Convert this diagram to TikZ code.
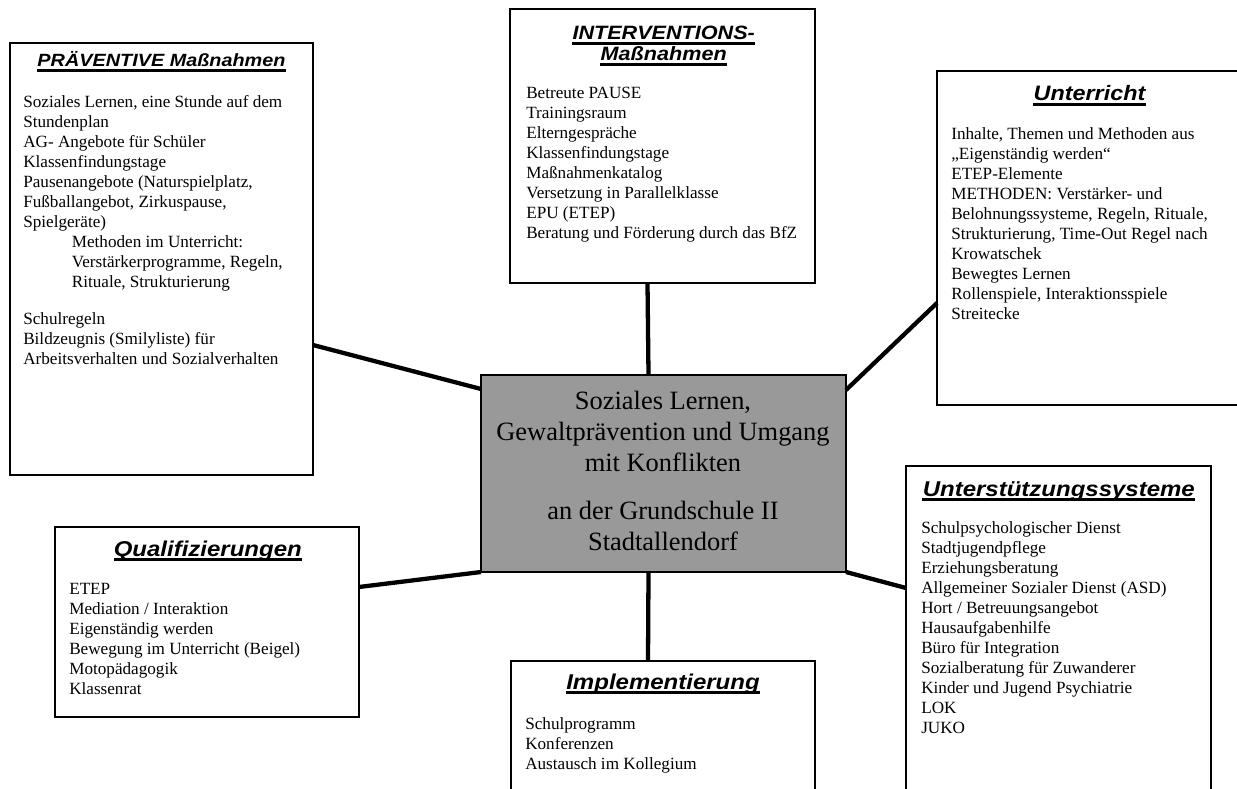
\documentclass[tikz,border=0pt]{standalone}
\usepackage{fontspec}
\setmainfont{Liberation Serif}
\newfontfamily\titlefont[FakeStretch=1.12]{Liberation Sans}
\usetikzlibrary{calc}
\definecolor{centerfill}{RGB}{153,153,153}
\newcommand\mytitle[4]{%
  \node[ttl,font=\titlefont\bfseries\itshape\fontsize{#3}{#3}\selectfont] (#1) at (#2) {#4};
  \draw[uline] ($(#1.base west)+(0,3.6)$) -- ($(#1.base east)+(0,3.6)$);}
\begin{document}
\begin{tikzpicture}[x=0.7pt,y=-0.7pt,
  box/.style={draw=black, line width=1.3pt, fill=white, inner sep=0pt, outer sep=0pt, anchor=north west},
  cbox/.style={box, fill=centerfill},
  body/.style={anchor=north west, inner sep=0pt, align=left, font=\fontsize{12}{14}\selectfont},
  ctext/.style={anchor=north, inner sep=0pt, align=center, font=\fontsize{18.5}{21.7}\selectfont},
  ttl/.style={anchor=base, inner sep=0pt},
  uline/.style={line width=2.2pt},
  link/.style={line width=3pt, line cap=butt}]
\useasboundingbox (0,0) rectangle (1237,789);

% boxes
\node[box, minimum width=212.1pt, minimum height=302.4pt] (P) at (10,43) {};
\node[box, minimum width=213.5pt, minimum height=191.8pt] (I) at (510,9) {};
\node[box, minimum width=213.5pt, minimum height=233.8pt] (U) at (937,71) {};
\node[box, minimum width=212.8pt, minimum height=133pt] (Q) at (55,527) {};
\node[box, minimum width=212.8pt, minimum height=112pt] (M) at (511,661) {};
\node[box, minimum width=213.5pt, minimum height=252pt] (S) at (906,466) {};
\node[cbox, minimum width=255.5pt, minimum height=137.9pt] (C) at (481,375) {};

% connectors
\draw[link] ($(P.north east)+(0,302)$) -- ($(C.north west)+(0,14)$);
\draw[link] ($(I.south)+(-15,0)$) -- ($(C.north)+(-15,0)$);
\draw[link] ($(C.north east)+(0,15)$) -- ($(U.north west)+(0,232)$);
\draw[link] ($(Q.north east)+(0,60)$) -- (C.south west);
\draw[link] ($(C.south)+(-15,0)$) -- ($(M.north)+(-15,0)$);
\draw[link] (C.south east) -- ($(S.north west)+(0,122)$);

% titles
\mytitle{tP}{161.5,67}{12.4}{PRÄVENTIVE Maßnahmen}
\mytitle{tI1}{663.7,39.5}{13.5}{INTERVENTIONS-}
\mytitle{tI2}{663.7,60.5}{13.5}{Maßnahmen}
\mytitle{tU}{1089.5,100.7}{14.6}{Unterricht}
\mytitle{tQ}{207.8,556}{15}{Qualifizierungen}
\mytitle{tM}{663,689.3}{15}{Implementierung}
\mytitle{tS}{1058.8,496}{15}{Unterstützungssysteme}

% body texts
\node[body] (bP) at (23,93) {\strut Soziales Lernen, eine Stunde auf dem\\
Stundenplan\\
AG- Angebote für Schüler\\
Klassenfindungstage\\
Pausenangebote (Naturspielplatz,\\
Fußballangebot, Zirkuspause,\\
Spielgeräte)\\
\hspace*{34pt}Methoden im Unterricht:\\
\hspace*{34pt}Verstärkerprogramme, Regeln,\\
\hspace*{34pt}Rituale, Strukturierung\\[12pt]
Schulregeln\\
Bildzeugnis (Smilyliste) für\\
Arbeitsverhalten und Sozialverhalten};

\node[body] (bI) at (526,84) {\strut Betreute PAUSE\\
Trainingsraum\\
Elterngespräche\\
Klassenfindungstage\\
Maßnahmenkatalog\\
Versetzung in Parallelklasse\\
EPU (ETEP)\\
Beratung und Förderung durch das BfZ};

\node[body] (bU) at (951,125) {\strut Inhalte, Themen und Methoden aus\\
„Eigenständig werden“\\
ETEP-Elemente\\
METHODEN: Verstärker- und\\
Belohnungssysteme, Regeln, Rituale,\\
Strukturierung, Time-Out Regel nach\\
Krowatschek\\
Bewegtes Lernen\\
Rollenspiele, Interaktionsspiele\\
Streitecke};

\node[body] (bQ) at (69,580) {\strut ETEP\\
Mediation / Interaktion\\
Eigenständig werden\\
Bewegung im Unterricht (Beigel)\\
Motopädagogik\\
Klassenrat};

\node[body] (bM) at (525,715) {\strut Schulprogramm\\
Konferenzen\\
Austausch im Kollegium};

\node[body] (bS) at (921,519) {\strut Schulpsychologischer Dienst\\
Stadtjugendpflege\\
Erziehungsberatung\\
Allgemeiner Sozialer Dienst (ASD)\\
Hort / Betreuungsangebot\\
Hausaufgabenhilfe\\
Büro für Integration\\
Sozialberatung für Zuwanderer\\
Kinder und Jugend Psychiatrie\\
LOK\\
JUKO};

% center text
\node[ctext] (cT) at (663,387.3) {\strut Soziales Lernen,\\
Gewaltprävention und Umgang\\
mit Konflikten\\[12pt]
an der Grundschule II\\
Stadtallendorf};
\end{tikzpicture}
\end{document}
